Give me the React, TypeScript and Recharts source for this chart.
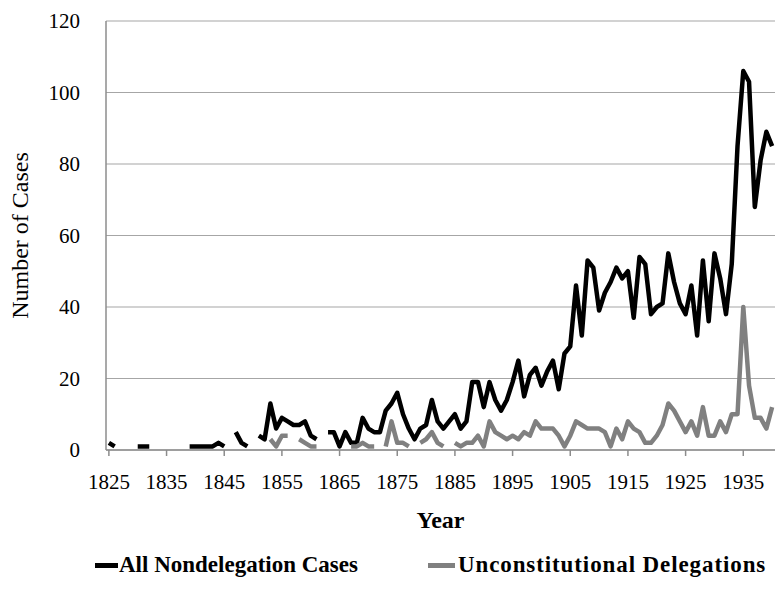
import { LineChart, Line, XAxis, YAxis, CartesianGrid, Legend } from 'recharts';

const years = [
  1825, 1826, 1827, 1828, 1829, 1830, 1831, 1832, 1833, 1834,
  1835, 1836, 1837, 1838, 1839, 1840, 1841, 1842, 1843, 1844,
  1845, 1846, 1847, 1848, 1849, 1850, 1851, 1852, 1853, 1854,
  1855, 1856, 1857, 1858, 1859, 1860, 1861, 1862, 1863, 1864,
  1865, 1866, 1867, 1868, 1869, 1870, 1871, 1872, 1873, 1874,
  1875, 1876, 1877, 1878, 1879, 1880, 1881, 1882, 1883, 1884,
  1885, 1886, 1887, 1888, 1889, 1890, 1891, 1892, 1893, 1894,
  1895, 1896, 1897, 1898, 1899, 1900, 1901, 1902, 1903, 1904,
  1905, 1906, 1907, 1908, 1909, 1910, 1911, 1912, 1913, 1914,
  1915, 1916, 1917, 1918, 1919, 1920, 1921, 1922, 1923, 1924,
  1925, 1926, 1927, 1928, 1929, 1930, 1931, 1932, 1933, 1934,
  1935, 1936, 1937, 1938, 1939, 1940,
];

// null = no case that year (gap in the line)
const allCases = [
  2, 1, null, null, null, 1, 1, 1, null, null,
  null, null, null, null, 1, 1, 1, 1, 1, 2,
  1, null, 5, 2, 1, null, 4, 3, 13, 6,
  9, 8, 7, 7, 8, 4, 3, null, 5, 5,
  1, 5, 2, 2, 9, 6, 5, 5, 11, 13,
  16, 10, 6, 3, 6, 7, 14, 8, 6, 8,
  10, 6, 8, 19, 19, 12, 19, 14, 11, 14,
  19, 25, 15, 21, 23, 18, 22, 25, 17, 27,
  29, 46, 32, 53, 51, 39, 44, 47, 51, 48,
  50, 37, 54, 52, 38, 40, 41, 55, 47, 41,
  38, 46, 32, 53, 36, 55, 48, 38, 52, 85,
  106, 103, 68, 81, 89, 85,
];

const unconstitutional = [
  null, null, null, null, null, null, null, null, null, null,
  null, null, null, null, null, null, null, null, null, null,
  null, null, null, null, null, null, null, null, 3, 1,
  4, 4, null, 3, 2, 1, 1, null, null, null,
  null, null, 1, 1, 2, 1, 1, null, 1, 8,
  2, 2, 1, null, 2, 3, 5, 2, 1, null,
  2, 1, 2, 2, 4, 1, 8, 5, 4, 3,
  4, 3, 5, 4, 8, 6, 6, 6, 4, 1,
  4, 8, 7, 6, 6, 6, 5, 1, 6, 3,
  8, 6, 5, 2, 2, 4, 7, 13, 11, 8,
  5, 8, 4, 12, 4, 4, 8, 5, 10, 10,
  40, 18, 9, 9, 6, 12,
];

const xTicks = [1825, 1835, 1845, 1855, 1865, 1875, 1885, 1895, 1905, 1915, 1925, 1935];
const yTicks = [0, 20, 40, 60, 80, 100, 120];

const data = years.map((year, i) => ({
  year,
  all: allCases[i],
  unconst: unconstitutional[i],
}));

const FONT = '"Liberation Serif", "Times New Roman", serif';
const BLACK = '#000000';
const GRAY = '#808080';

const LegendContent = () => (
  <div
    style={{
      height: 40,
      display: 'flex',
      alignItems: 'center',
      paddingLeft: 95,
      fontFamily: FONT,
      fontWeight: 'bold',
      fontSize: 23,
      color: '#000',
      whiteSpace: 'nowrap',
    }}
  >
    <span style={{ display: 'inline-block', width: 23, height: 5, background: BLACK, marginRight: 1 }} />
    <span>All Nondelegation Cases</span>
    <span style={{ display: 'inline-block', width: 27, height: 5, background: GRAY, marginLeft: 70, marginRight: 3 }} />
    <span style={{ letterSpacing: 0.9 }}>Unconstitutional Delegations</span>
  </div>
);

export default function App() {
  return (
    <div style={{ position: 'absolute', left: 0, top: 0, background: '#fff' }}>
      <LineChart width={775} height={606} data={data} margin={{ top: 21, right: 0, bottom: 21, left: 0 }}>
        <CartesianGrid vertical={false} stroke="#a6a6a6" strokeWidth={1.2} />
        <XAxis
          dataKey="year"
          type="number"
          domain={[1824.5, 1940.5]}
          ticks={xTicks}
          height={95}
          stroke="#8c8c8c"
          strokeWidth={1.5}
          tickSize={6}
          tickMargin={18}
          tick={{ fontSize: 21, fill: '#000', fontFamily: FONT }}
          label={{
            content: (props: any) => {
              const vb = props.viewBox;
              return (
                <text
                  x={vb.x + vb.width / 2}
                  y={vb.y + 78}
                  textAnchor="middle"
                  fontFamily={FONT}
                  fontWeight="bold"
                  fontSize={24}
                  fill="#000"
                >
                  Year
                </text>
              );
            },
          }}
        />
        <YAxis
          type="number"
          domain={[0, 120]}
          ticks={yTicks}
          width={106}
          stroke="#8c8c8c"
          strokeWidth={1.5}
          tickLine={false}
          tickSize={0}
          tickMargin={26}
          tick={{ fontSize: 21, fill: '#000', fontFamily: FONT }}
          label={{
            content: (props: any) => {
              const vb = props.viewBox;
              const cx = vb.x + 20;
              const cy = vb.y + vb.height / 2;
              return (
                <text
                  x={cx}
                  y={cy}
                  transform={`rotate(-90, ${cx}, ${cy})`}
                  textAnchor="middle"
                  dominantBaseline="central"
                  fontFamily={FONT}
                  fontSize={24}
                  fill="#000"
                >
                  Number of Cases
                </text>
              );
            },
          }}
        />
        <Legend verticalAlign="bottom" align="left" content={<LegendContent />} />
        <Line
          dataKey="all"
          stroke={BLACK}
          strokeWidth={4.5}
          strokeLinejoin="round"
          dot={false}
          activeDot={false}
          type="linear"
          isAnimationActive={false}
        />
        <Line
          dataKey="unconst"
          stroke={GRAY}
          strokeWidth={4.5}
          strokeLinejoin="round"
          dot={false}
          activeDot={false}
          type="linear"
          isAnimationActive={false}
        />
      </LineChart>
    </div>
  );
}
